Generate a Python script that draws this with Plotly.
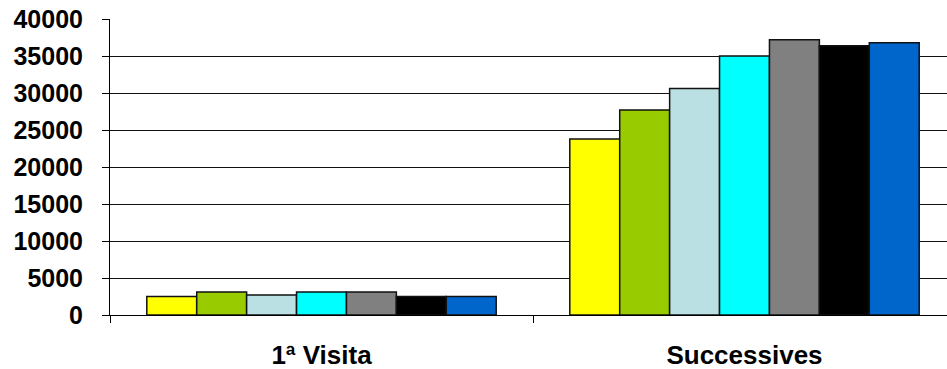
import plotly.graph_objects as go

# Visit categories and the seven series shown in each group
categories = ["1ª Visita", "Successives"]
series_colors = ["#FFFF00", "#99CC00", "#BBE0E3", "#00FFFF", "#808080", "#000000", "#0066CC"]
series_names = ["S1", "S2", "S3", "S4", "S5", "S6", "S7"]
values_primera = [2500, 3100, 2700, 3100, 3100, 2500, 2500]
values_successives = [23800, 27700, 30600, 35000, 37200, 36400, 36800]
y_ticks = [0, 5000, 10000, 15000, 20000, 25000, 30000, 35000, 40000]
y_tick_labels = [str(v) for v in y_ticks]

x_pos = list(range(len(categories)))

fig = go.Figure()
for i, name in enumerate(series_names):
    fig.add_trace(go.Bar(
        x=x_pos,
        y=[values_primera[i], values_successives[i]],
        name=name,
        marker=dict(color=series_colors[i], line=dict(color="#111111", width=1.5)),
        showlegend=False,
    ))

font_family = "Liberation Sans, Arial, sans-serif"

fig.update_layout(
    width=947, height=369,
    margin=dict(l=110, r=0, t=19, b=54),
    paper_bgcolor="white", plot_bgcolor="white",
    barmode="group", bargap=0.174, bargroupgap=0,
    xaxis=dict(
        range=[-0.5, -0.5 + 837 / 423],
        tickvals=x_pos, ticktext=categories,
        ticks="", showgrid=False, zeroline=False,
        showline=True, linecolor="#000000", linewidth=1,
        tickfont=dict(family=font_family, size=26, color="#000000", weight="bold"),
        ticklabelstandoff=17,
        minor=dict(tick0=-0.5, dtick=1, ticks="outside", ticklen=7,
                   tickcolor="#000000", tickwidth=1, showgrid=False),
    ),
    yaxis=dict(
        range=[0, 40000], tickvals=y_ticks, ticktext=y_tick_labels,
        ticks="outside", ticklen=7, tickcolor="#000000", tickwidth=1,
        showgrid=True, gridcolor="#111111", gridwidth=1,
        zeroline=False, showline=True, linecolor="#000000", linewidth=1,
        tickfont=dict(family=font_family, size=25, color="#000000", weight="bold"),
        ticklabelstandoff=14,
    ),
)

fig.write_html("out.html")
